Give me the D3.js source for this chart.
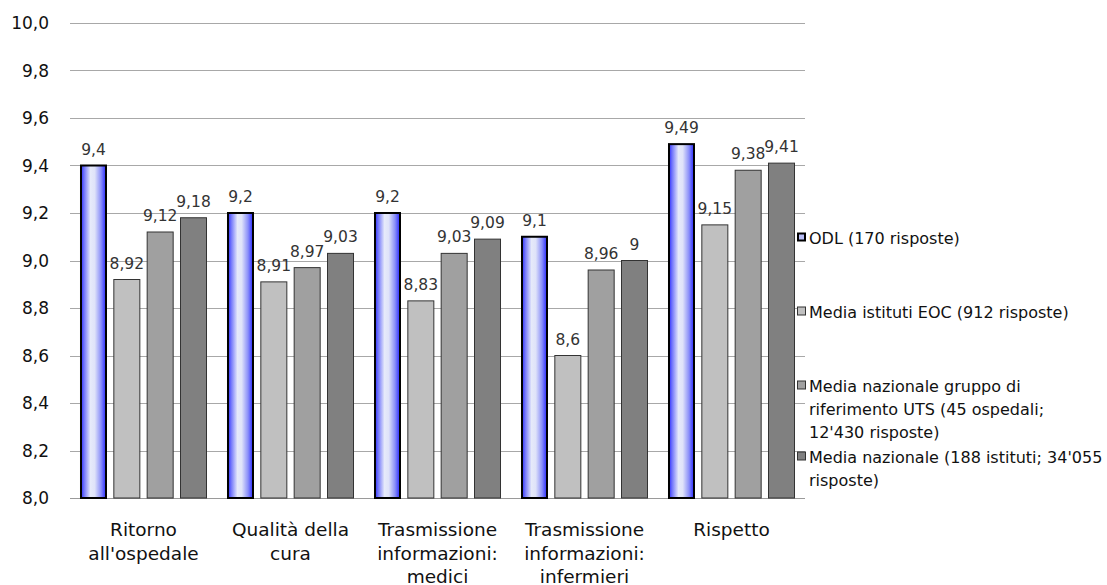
<!DOCTYPE html>
<html>
<head>
<meta charset="utf-8">
<script src="https://cdn.jsdelivr.net/npm/d3@7/dist/d3.min.js"></script>
<style>
  html, body { margin: 0; padding: 0; background: #fff; }
  svg { display: block; font-family: "DejaVu Sans", Verdana, sans-serif; }
</style>
</head>
<body>
<svg id="chart" width="1107" height="585"></svg>
<script>
// Categories (each label split into lines)
const categories = [
  ["Ritorno", "all'ospedale"],
  ["Qualità della", "cura"],
  ["Trasmissione", "informazioni:", "medici"],
  ["Trasmissione", "informazioni:", "infermieri"],
  ["Rispetto"]
];

// Series names (legend lines)
const seriesNames = [
  ["ODL (170 risposte)"],
  ["Media istituti EOC (912 risposte)"],
  ["Media nazionale gruppo di", "riferimento UTS (45 ospedali;", "12'430 risposte)"],
  ["Media nazionale (188 istituti; 34'055", "risposte)"]
];

// Values per series, one per category
const odl      = [9.4, 9.2, 9.2, 9.1, 9.49];
const eoc      = [8.92, 8.91, 8.83, 8.6, 9.15];
const uts      = [9.12, 8.97, 9.03, 8.96, 9.38];
const nazionale = [9.18, 9.03, 9.09, 9.0, 9.41];
const seriesValues = [odl, eoc, uts, nazionale];

// Y axis ticks
const yTicks = [8.0, 8.2, 8.4, 8.6, 8.8, 9.0, 9.2, 9.4, 9.6, 9.8, 10.0];

const svg = d3.select("#chart");
const plotLeft = 70, plotRight = 805, plotTop = 23, plotBottom = 498;

const catKeys = categories.map((c, i) => i);
const x0 = d3.scaleBand().domain(catKeys).range([plotLeft, plotRight])
  .paddingInner(0.136).paddingOuter(0.068);
const x1 = d3.scaleBand().domain(d3.range(seriesValues.length))
  .range([0, x0.bandwidth()]).paddingInner(0.19).paddingOuter(0);
const y = d3.scaleLinear().domain([8, 10]).range([plotBottom, plotTop]);

// Gradient for the ODL bars
const defs = svg.append("defs");
const grad = defs.append("linearGradient").attr("id", "odlGrad")
  .attr("x1", "0%").attr("x2", "100%").attr("y1", "0%").attr("y2", "0%");
[["0%", "#2c2cff"], ["12%", "#6f73fb"], ["38%", "#e6eafa"], ["55%", "#dfe3f9"], ["80%", "#8a8ff9"], ["100%", "#2828ff"]]
  .forEach(([o, c]) => grad.append("stop").attr("offset", o).attr("stop-color", c));

// Gridlines
svg.append("g").selectAll("line").data(yTicks).join("line")
  .attr("x1", plotLeft).attr("x2", plotRight)
  .attr("y1", d => Math.round(y(d)) + 0.5).attr("y2", d => Math.round(y(d)) + 0.5)
  .attr("stroke", d => d === 8 ? "#9a9a9a" : "#a8a8a8").attr("stroke-width", 1);

// Y axis labels
svg.append("g").selectAll("text").data(yTicks).join("text")
  .attr("x", 49).attr("y", d => y(d) + 6)
  .attr("text-anchor", "end").attr("font-size", 17).attr("fill", "#111")
  .text(d => d.toFixed(1).replace(".", ","));

const fills = ["url(#odlGrad)", "#c0c0c0", "#a0a0a0", "#808080"];
const strokes = ["#000", "#333", "#333", "#333"];
const strokeW = [2, 1, 1, 1];
const fmt = v => String(v).replace(".", ",");

// Bars
const groups = svg.append("g").selectAll("g").data(catKeys).join("g")
  .attr("transform", i => `translate(${x0(i)},0)`);

groups.selectAll("rect").data(i => seriesValues.map((s, k) => ({k, v: s[i]}))).join("rect")
  .attr("x", d => x1(d.k) + strokeW[d.k] / 2)
  .attr("y", d => y(d.v))
  .attr("width", d => x1.bandwidth() - strokeW[d.k])
  .attr("height", d => y(8) - y(d.v))
  .attr("fill", d => fills[d.k])
  .attr("stroke", d => strokes[d.k])
  .attr("stroke-width", d => strokeW[d.k]);

// Value labels
groups.selectAll("text").data(i => seriesValues.map((s, k) => ({k, v: s[i]}))).join("text")
  .attr("x", d => x1(d.k) + x1.bandwidth() / 2)
  .attr("y", d => y(d.v) - 11)
  .attr("text-anchor", "middle").attr("font-size", 15.5).attr("fill", "#333")
  .text(d => fmt(d.v));

// Category labels
const catG = svg.append("g").selectAll("text").data(catKeys).join("text")
  .attr("text-anchor", "middle").attr("font-size", 18.5).attr("fill", "#111");
catG.selectAll("tspan").data(i => categories[i].map((t, j) => ({t, j, i}))).join("tspan")
  .attr("x", d => x0(d.i) + x0.bandwidth() / 2)
  .attr("y", d => 536 + d.j * 23.5)
  .text(d => d.t);

// Legend
const legendY = [244, 318, 392, 463];
const leg = svg.append("g").selectAll("g").data(seriesNames).join("g");
leg.append("rect")
  .attr("x", (d, k) => 797 + (k === 0 ? 1 : 0.5))
  .attr("y", (d, k) => legendY[k] - 11 + (k === 0 ? 0.5 : 0))
  .attr("width", (d, k) => k === 0 ? 7 : 8)
  .attr("height", (d, k) => k === 0 ? 7 : 8)
  .attr("fill", (d, k) => k === 0 ? "#b8bdf6" : fills[k])
  .attr("stroke", (d, k) => k === 0 ? "#000" : "#333")
  .attr("stroke-width", (d, k) => k === 0 ? 2 : 1);
const legText = leg.append("text").attr("font-size", 16).attr("fill", "#111");
legText.selectAll("tspan").data((d, k) => d.map((t, j) => ({t, j, k}))).join("tspan")
  .attr("x", 809).attr("y", d => legendY[d.k] + d.j * 23)
  .text(d => d.t);
</script>
</body>
</html>
